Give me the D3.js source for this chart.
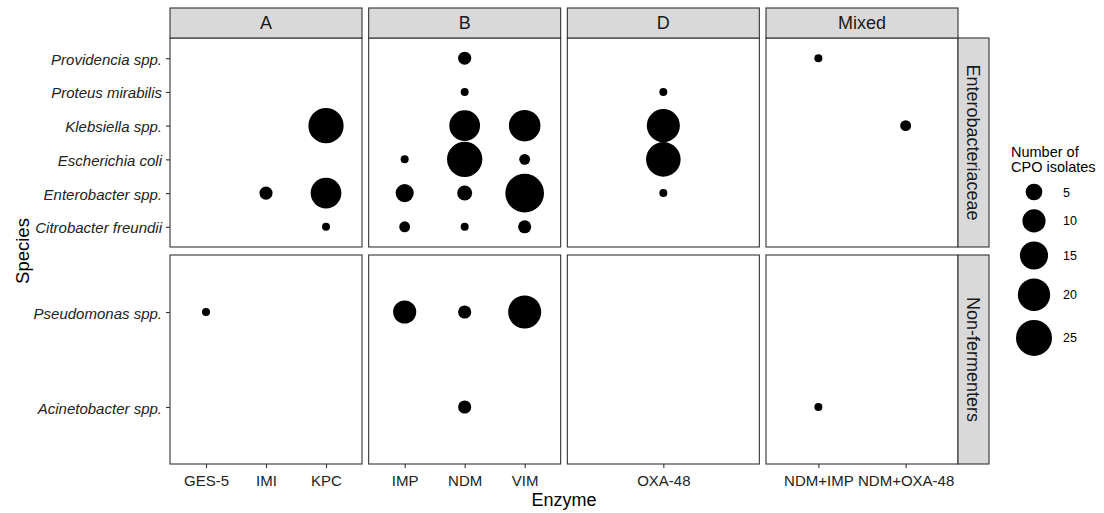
<!DOCTYPE html>
<html>
<head>
<meta charset="utf-8">
<script src="https://cdn.jsdelivr.net/npm/d3@7"></script>
<style>
  html, body { margin: 0; padding: 0; background: #fff; }
  svg { display: block; }
</style>
</head>
<body>
<script>
// Carbapenemase classes (facet columns) and the enzymes in each
const enzymeClasses = ["A", "B", "D", "Mixed"];
const enzymesA = ["GES-5", "IMI", "KPC"];
const enzymesB = ["IMP", "NDM", "VIM"];
const enzymesD = ["OXA-48"];
const enzymesMixed = ["NDM+IMP", "NDM+OXA-48"];

// Organism groups (facet rows) and their species, listed bottom to top
const speciesGroups = ["Enterobacteriaceae", "Non-fermenters"];
const enterobacteriaceae = ["Citrobacter freundii", "Enterobacter spp.", "Escherichia coli",
  "Klebsiella spp.", "Proteus mirabilis", "Providencia spp."];
const nonFermenters = ["Acinetobacter spp.", "Pseudomonas spp."];

// Isolate counts: one entry per species/enzyme combination
const obsSpecies = [
  "Enterobacter spp.", "Klebsiella spp.", "Enterobacter spp.", "Citrobacter freundii", "Pseudomonas spp.",
  "Providencia spp.", "Proteus mirabilis", "Klebsiella spp.", "Klebsiella spp.",
  "Escherichia coli", "Escherichia coli", "Escherichia coli",
  "Enterobacter spp.", "Enterobacter spp.", "Enterobacter spp.",
  "Citrobacter freundii", "Citrobacter freundii", "Citrobacter freundii",
  "Pseudomonas spp.", "Pseudomonas spp.", "Pseudomonas spp.", "Acinetobacter spp.",
  "Proteus mirabilis", "Klebsiella spp.", "Escherichia coli", "Enterobacter spp.",
  "Providencia spp.", "Klebsiella spp.", "Acinetobacter spp."
];
const obsEnzyme = [
  "IMI", "KPC", "KPC", "KPC", "GES-5",
  "NDM", "NDM", "NDM", "VIM",
  "IMP", "NDM", "VIM",
  "IMP", "NDM", "VIM",
  "IMP", "NDM", "VIM",
  "IMP", "NDM", "VIM", "NDM",
  "OXA-48", "OXA-48", "OXA-48", "OXA-48",
  "NDM+IMP", "NDM+OXA-48", "NDM+IMP"
];
const obsCount = [
  3, 24, 18, 1, 1,
  3, 1, 18, 19,
  1, 24, 2,
  6, 4, 29,
  2, 1, 3,
  10, 3, 21, 3,
  1, 21, 23, 1,
  1, 2, 1
];

const legendBreaks = [5, 10, 15, 20, 25];

const enzymesByClass = { A: enzymesA, B: enzymesB, D: enzymesD, Mixed: enzymesMixed };
const speciesByGroup = { "Enterobacteriaceae": enterobacteriaceae, "Non-fermenters": nonFermenters };

const records = obsSpecies.map((s, i) => ({ species: s, enzyme: obsEnzyme[i], count: obsCount[i] }));

// ---- layout ----
const W = 1104, H = 513;
const panelLeft = 170, panelW = 192, colGap = 6.67;
const panelTop = 38, panelH = 209, rowGap = 8;
const stripH = 30, stripW = 31;

const font = "'Liberation Sans', Arial, Helvetica, sans-serif";
const svg = d3.select("body").append("svg")
  .attr("width", W).attr("height", H)
  .style("font-family", font);

// point size: area proportional to the count
const rScale = d3.scaleSqrt().domain([0, 25]).range([0, 17.5]);
const radius = v => rScale(v) + 0.5;

const colX = i => panelLeft + i * (panelW + colGap);
const rowY = j => panelTop + j * (panelH + rowGap);

const axisColor = "#333333";
const tickText = "#222222";

speciesGroups.forEach((group, j) => {
  const y0 = rowY(j);
  const species = speciesByGroup[group];
  const y = d3.scalePoint().domain(species).range([y0 + panelH, y0]).padding(0.6);

  enzymeClasses.forEach((cls, i) => {
    const x0 = colX(i);
    const enzymes = enzymesByClass[cls];
    const x = d3.scalePoint().domain(enzymes).range([x0, x0 + panelW]).padding(0.6);

    const g = svg.append("g");
    // panel background
    g.append("rect")
      .attr("x", x0).attr("y", y0).attr("width", panelW).attr("height", panelH)
      .attr("fill", "#ffffff");

    // points
    const pts = records.filter(d => species.includes(d.species) && enzymes.includes(d.enzyme));
    g.selectAll("circle").data(pts).join("circle")
      .attr("cx", d => x(d.enzyme))
      .attr("cy", d => y(d.species))
      .attr("r", d => radius(d.count))
      .attr("fill", "#000");

    // panel border
    g.append("rect")
      .attr("x", x0).attr("y", y0).attr("width", panelW).attr("height", panelH)
      .attr("fill", "none").attr("stroke", axisColor).attr("stroke-width", 1.1);

    // x axis on the bottom row
    if (j === speciesGroups.length - 1) {
      const ax = svg.append("g")
        .attr("transform", `translate(0,${y0 + panelH})`)
        .call(d3.axisBottom(x).tickSize(4).tickPadding(7));
      ax.select(".domain").remove();
      ax.selectAll(".tick line").attr("stroke", axisColor).attr("stroke-width", 1.1);
      ax.selectAll(".tick text")
        .attr("fill", tickText).style("font-size", "15px").style("font-family", font);
    }

    // strip on the top row
    if (j === 0) {
      svg.append("rect")
        .attr("x", x0).attr("y", y0 - stripH).attr("width", panelW).attr("height", stripH)
        .attr("fill", "#d9d9d9").attr("stroke", axisColor).attr("stroke-width", 1.1);
      svg.append("text")
        .attr("x", x0 + panelW / 2).attr("y", y0 - stripH / 2)
        .attr("dy", "0.36em").attr("text-anchor", "middle")
        .attr("fill", "#1a1a1a").style("font-size", "18px")
        .text(cls);
    }
  });

  // y axis on the left column
  const ay = svg.append("g")
    .attr("transform", `translate(${panelLeft},0)`)
    .call(d3.axisLeft(y).tickSize(4).tickPadding(4));
  ay.select(".domain").remove();
  ay.selectAll(".tick line").attr("stroke", axisColor).attr("stroke-width", 1.1);
  ay.selectAll(".tick text")
    .attr("fill", tickText).attr("dy", "0.4em")
    .style("font-size", "15px").style("font-style", "italic").style("font-family", font);

  // row strip on the right
  const sx = colX(enzymeClasses.length - 1) + panelW;
  svg.append("rect")
    .attr("x", sx).attr("y", y0).attr("width", stripW).attr("height", panelH)
    .attr("fill", "#d9d9d9").attr("stroke", axisColor).attr("stroke-width", 1.1);
  svg.append("text")
    .attr("transform", `translate(${sx + stripW / 2},${y0 + panelH / 2}) rotate(90)`)
    .attr("dy", "0.36em").attr("text-anchor", "middle")
    .attr("fill", "#1a1a1a").style("font-size", "18px")
    .text(group);
});

// axis titles
const plotRight = colX(enzymeClasses.length - 1) + panelW;
svg.append("text")
  .attr("x", (panelLeft + plotRight) / 2).attr("y", 506)
  .attr("text-anchor", "middle").style("font-size", "18px").attr("fill", "#000")
  .text("Enzyme");
svg.append("text")
  .attr("transform", `translate(29,${(panelTop + rowY(1) + panelH) / 2}) rotate(-90)`)
  .attr("text-anchor", "middle").style("font-size", "18.5px").attr("fill", "#000")
  .text("Species");

// size legend
const lg = svg.append("g");
lg.append("text").attr("x", 1011).attr("y", 157).style("font-size", "14.5px").attr("fill", "#000")
  .text("Number of");
lg.append("text").attr("x", 1011).attr("y", 172).style("font-size", "14.5px").attr("fill", "#000")
  .text("CPO isolates");

const keyH = legendBreaks.map(b => 2 * radius(b) + 9);
let cy = 192;
legendBreaks.forEach((b, k) => {
  if (k > 0) cy += (keyH[k - 1] + keyH[k]) / 2;
  lg.append("circle").attr("cx", 1034).attr("cy", cy).attr("r", radius(b)).attr("fill", "#000");
  lg.append("text").attr("x", 1063).attr("y", cy).attr("dy", "0.36em")
    .style("font-size", "12.5px").attr("fill", "#000").text(b);
});
</script>
</body>
</html>
